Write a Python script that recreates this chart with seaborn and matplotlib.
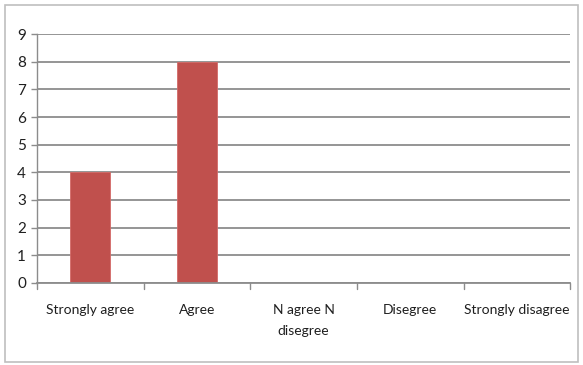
import matplotlib
matplotlib.use("Agg")
import matplotlib.pyplot as plt
import seaborn as sns
import pandas as pd
from matplotlib.patches import Rectangle

categories = ["Strongly agree", "Agree", "N agree N\ndisegree", "Disegree", "Strongly disagree"]
counts = [4, 8, 0, 0, 0]
y_ticks = list(range(0, 10))

df = pd.DataFrame({"answer": categories, "count": counts})

sns.set_style("white")
plt.rcParams["font.family"] = ["Lato", "DejaVu Sans"]

fig = plt.figure(figsize=(5.83, 3.65), dpi=100)
ax = fig.add_axes([0.0635, 0.2247, 0.9145, 0.6821])

sns.barplot(data=df, x="answer", y="count", color="#C0504D", saturation=1,
            width=0.375, ax=ax, edgecolor="#D46A67", linewidth=0.6)

ax.set_ylim(0, 9)
ax.set_xlim(-0.5, len(categories) - 0.5)
ax.set_yticks(y_ticks)
ax.set_yticklabels([str(t) for t in y_ticks], fontsize=11, color="#1F1F1F")
ax.yaxis.grid(True, color="#8C8C8C", linewidth=1.3)
ax.set_axisbelow(True)

ax.set_xticks(range(len(categories)))
ax.set_xticklabels(categories, fontsize=10, color="#1F1F1F", linespacing=1.9)
ax.tick_params(axis="x", length=0, pad=15)
ax.tick_params(axis="y", length=4, width=1, color="#8C8C8C", pad=4, left=True)
# category boundary ticks
for b in [i + 0.5 for i in range(-1, len(categories))]:
    ax.plot([b, b], [0, -0.22], color="#8C8C8C", lw=1, clip_on=False)

ax.set_xlabel("")
ax.set_ylabel("")
for side in ["top", "right"]:
    ax.spines[side].set_visible(False)
ax.spines["left"].set_color("#8C8C8C")
ax.spines["bottom"].set_color("#8C8C8C")
ax.spines["left"].set_linewidth(1)
ax.spines["bottom"].set_linewidth(1.3)

fig.patches.append(Rectangle((5 / 583, 3 / 365), 573 / 583, 357 / 365, transform=fig.transFigure,
                             fill=False, edgecolor="#BFBFBF", linewidth=1.2))

fig.savefig("out.png", dpi=100)
